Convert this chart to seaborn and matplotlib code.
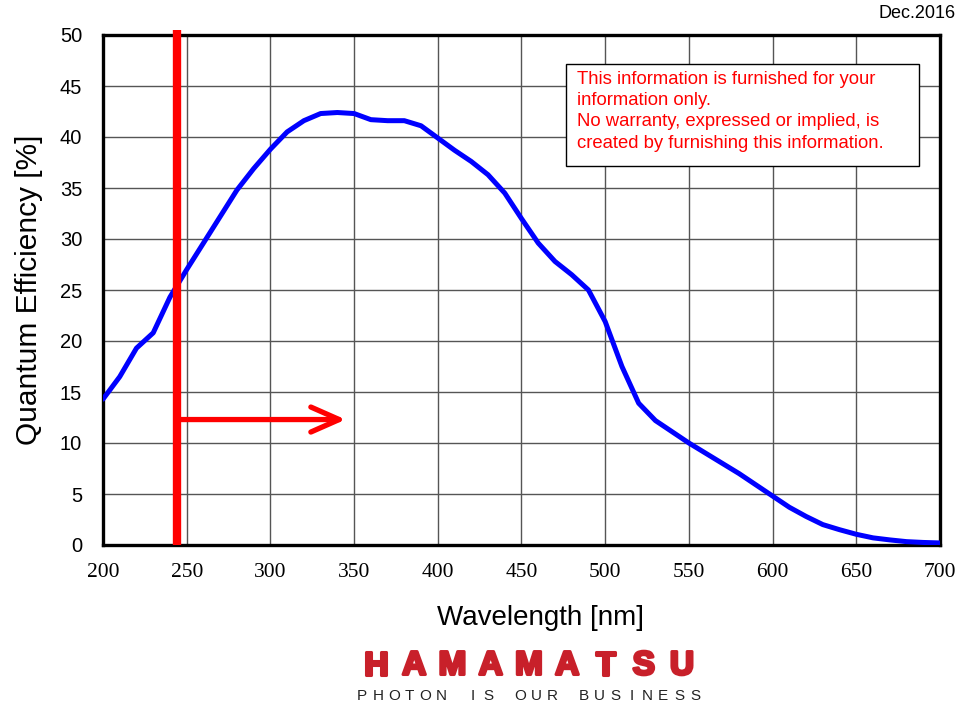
import matplotlib
matplotlib.use("Agg")
import matplotlib.pyplot as plt
import seaborn as sns
import pandas as pd
from matplotlib.patches import Rectangle
import matplotlib.patheffects as pe

# ---- data ----
wavelength = [200, 210, 220, 230, 240, 250, 260, 270, 280, 290, 300, 310, 320, 330,
              340, 350, 360, 370, 380, 390, 400, 410, 420, 430, 440, 450, 460, 470,
              480, 490, 500, 510, 520, 530, 540, 550, 560, 570, 580, 590, 600, 610,
              620, 630, 640, 650, 660, 670, 680, 690, 700]
qe = [14.3, 16.5, 19.3, 20.8, 24.3, 27.0, 29.6, 32.2, 34.8, 36.9, 38.8, 40.5, 41.6, 42.3,
      42.4, 42.3, 41.7, 41.6, 41.6, 41.1, 39.9, 38.7, 37.6, 36.3, 34.5, 32.0, 29.6, 27.8,
      26.5, 25.0, 21.9, 17.5, 13.9, 12.2, 11.1, 10.0, 9.0, 8.0, 7.0, 5.9, 4.8, 3.7,
      2.8, 2.0, 1.5, 1.05, 0.7, 0.5, 0.33, 0.25, 0.2]
cutoff_nm = 244
arrow_start, arrow_end, arrow_level = 244, 345, 12.3
x_ticks = [200, 250, 300, 350, 400, 450, 500, 550, 600, 650, 700]
y_ticks = [0, 5, 10, 15, 20, 25, 30, 35, 40, 45, 50]
x_label = "Wavelength [nm]"
y_label = "Quantum Efficiency [%]"
note_lines = ["This information is furnished for your",
              "information only.",
              "No warranty, expressed or implied, is",
              "created by furnishing this information."]
date_text = "Dec.2016"
logo_text = "HAMAMATSU"
slogan_text = "PHOTON IS OUR BUSINESS"

df = pd.DataFrame({"wavelength": wavelength, "qe": qe})

sns.set_theme(style="white")
plt.rcParams["font.family"] = ["Liberation Sans", "DejaVu Sans"]
plt.rcParams["text.color"] = "black"
plt.rcParams["axes.labelcolor"] = "black"
plt.rcParams["xtick.color"] = "black"
plt.rcParams["ytick.color"] = "black"

W, H = 970, 705
fig = plt.figure(figsize=(9.7, 7.05), dpi=100)
ax = fig.add_axes([103/W, 1-545/H, 837/W, 510/H])

ax.set_xlim(200, 700)
ax.set_ylim(0, 50)
ax.set_xticks(x_ticks)
ax.set_yticks(y_ticks)
ax.grid(True, color="#555555", linewidth=1.0)
ax.set_axisbelow(True)
for s in ax.spines.values():
    s.set_color("black")
    s.set_linewidth(2.4)
ax.tick_params(axis="y", labelsize=14.5, pad=15, length=0)
ax.tick_params(axis="x", labelsize=15.5, pad=13, length=0)
for lab in ax.get_xticklabels():
    lab.set_fontfamily("Liberation Serif")

sns.lineplot(data=df, x="wavelength", y="qe", ax=ax, color="#0000ff",
             linewidth=3.6, zorder=3)

ax.set_xlabel(x_label, fontsize=20)
ax.set_ylabel(y_label, fontsize=21.5)
ax.xaxis.set_label_coords(0.523, -0.118)
ax.yaxis.set_label_coords(-0.072, 0.5)

# cutoff line and arrow
ax.plot([cutoff_nm, cutoff_nm], [0, 50.45], color="#ff0000", linewidth=6,
        solid_capstyle="butt", clip_on=False, zorder=4)
ax.annotate("", xy=(arrow_end, arrow_level), xytext=(arrow_start, arrow_level),
            arrowprops=dict(arrowstyle="->,head_length=1.7,head_width=0.75",
                            color="#ff0000", linewidth=3.8, shrinkA=0, shrinkB=0,
                            capstyle="round", joinstyle="round"),
            zorder=4)

# note box
fig.patches.append(Rectangle((566/W, 1-166/H), 353/W, 102/H,
                             transform=fig.transFigure, facecolor="white",
                             edgecolor="black", linewidth=1, zorder=5))
line_y = [79, 100.3, 121.6, 143]
for yy, txt in zip(line_y, note_lines):
    fig.text(577/W, 1-yy/H, txt, color="#ff0000", fontsize=13.3,
             va="center", ha="left", zorder=6)

fig.text(956/W, 1-13/H, date_text, fontsize=13, ha="right", va="center")

# logo
x_first, x_last = 376, 682
step = (x_last - x_first) / (len(logo_text) - 1)
for i, ch in enumerate(logo_text):
    fig.text((x_first + step*i)/W, 1-666/H, ch, color="#c8202a",
             fontsize=24, fontweight="bold", ha="center", va="center",
             family="Liberation Sans",
             path_effects=[pe.withStroke(linewidth=2.2, foreground="#c8202a")])
s_first, s_last = 362, 695
sstep = (s_last - s_first) / (len(slogan_text) - 1)
for i, ch in enumerate(slogan_text):
    if ch != " ":
        fig.text((s_first + sstep*i)/W, 1-696/H, ch, color="#222222",
                 fontsize=11, ha="center", va="center")

fig.savefig("out.png", dpi=100)
